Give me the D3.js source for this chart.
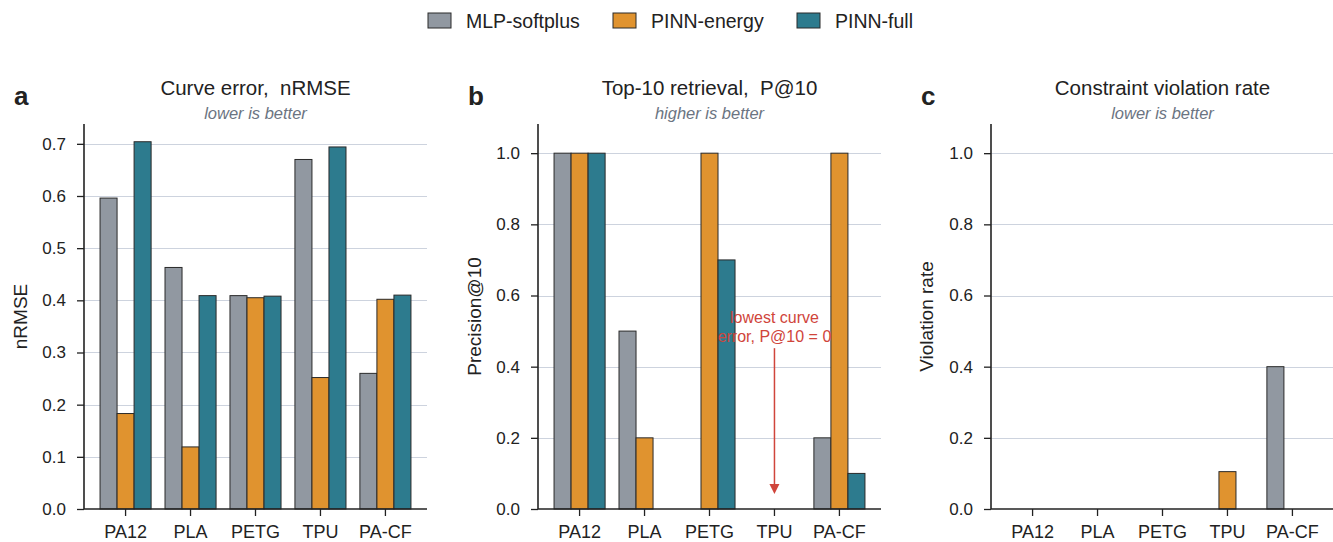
<!DOCTYPE html>
<html lang="en">
<head>
<meta charset="UTF-8">
<title>Model comparison</title>
<script src="https://cdn.jsdelivr.net/npm/d3@7"></script>
<style>
  body { margin: 0; background: #fff; }
  svg text { font-family: "Liberation Sans", Arial, Helvetica, sans-serif; fill: #222; white-space: pre; }
</style>
</head>
<body>
<svg id="chart" width="1333" height="542"></svg>
<script>
// data
var materials = ["PA12", "PLA", "PETG", "TPU", "PA-CF"];
var models = ["MLP-softplus", "PINN-energy", "PINN-full"];
var colors = ["#9198a1", "#e0932f", "#2d7b8e"];

var nrmse = [
  [0.596, 0.463, 0.409, 0.670, 0.260],   // MLP-softplus
  [0.183, 0.119, 0.405, 0.252, 0.402],   // PINN-energy
  [0.704, 0.409, 0.408, 0.694, 0.410]    // PINN-full
];
var p10 = [
  [1.0, 0.5, 0.0, 0.0, 0.2],
  [1.0, 0.2, 1.0, 0.0, 1.0],
  [1.0, 0.0, 0.7, 0.0, 0.1]
];
var violation = [
  [0.0, 0.0, 0.0, 0.0, 0.4],
  [0.0, 0.0, 0.0, 0.105, 0.0],
  [0.0, 0.0, 0.0, 0.0, 0.0]
];
var ticksA = [0, 0.1, 0.2, 0.3, 0.4, 0.5, 0.6, 0.7];
var ticksB = [0, 0.2, 0.4, 0.6, 0.8, 1.0];

var svg = d3.select("#chart");
var plotTop = 124, plotBottom = 509;

var panels = [
  {letter: "a", title: "Curve error,  nRMSE", sub: "lower is better", ylab: "nRMSE",
   data: nrmse, ymax: 0.738, ticks: ticksA, x0: 84, x1: 427, ylabX: 27},
  {letter: "b", title: "Top-10 retrieval,  P@10", sub: "higher is better", ylab: "Precision@10",
   data: p10, ymax: 1.082, ticks: ticksB, x0: 538, x1: 881, ylabX: 481},
  {letter: "c", title: "Constraint violation rate", sub: "lower is better", ylab: "Violation rate",
   data: violation, ymax: 1.082, ticks: ticksB, x0: 991, x1: 1334, ylabX: 933}
];

panels.forEach(function(p, pi) {
  var x = d3.scaleBand().domain(materials).range([p.x0, p.x1]).paddingInner(0).paddingOuter(0.14);
  var y = d3.scaleLinear().domain([0, p.ymax]).range([plotBottom, plotTop]);
  var bw = x.bandwidth() * 0.262;
  var g = svg.append("g");

  // grid
  g.selectAll("line.grid").data(p.ticks.filter(function(t) { return t > 0; })).enter()
    .append("line")
    .attr("x1", p.x0).attr("x2", p.x1)
    .attr("y1", function(d) { return Math.round(y(d)) + 0.5; })
    .attr("y2", function(d) { return Math.round(y(d)) + 0.5; })
    .attr("stroke", "#cdd3de").attr("stroke-width", 1.2);

  // bars
  p.data.forEach(function(vals, si) {
    g.selectAll("rect.s" + si).data(vals).enter()
      .append("rect")
      .attr("x", function(d, i) { return x(materials[i]) + x.bandwidth() / 2 + (si - 1.5) * bw; })
      .attr("width", bw)
      .attr("y", function(d) { return y(d); })
      .attr("height", function(d) { return y(0) - y(d); })
      .attr("fill", colors[si])
      .attr("stroke", "#2a2a2a").attr("stroke-width", 1)
      .style("display", function(d) { return d > 0 ? null : "none"; });
  });

  // annotation in panel b
  if (pi == 1) {
    var ax = x("TPU") + x.bandwidth() / 2;
    g.append("text").attr("x", ax).attr("y", 323).attr("text-anchor", "middle")
      .attr("font-size", 16).style("fill", "#d0453b").text("lowest curve");
    g.append("text").attr("x", ax).attr("y", 342).attr("text-anchor", "middle")
      .attr("font-size", 16).style("fill", "#d0453b").text("error, P@10 = 0");
    g.append("line").attr("x1", ax).attr("x2", ax).attr("y1", y(0.452)).attr("y2", y(0.05))
      .attr("stroke", "#d0453b").attr("stroke-width", 1.5);
    var ty = y(0.042);
    g.append("path")
      .attr("d", "M" + (ax - 5) + "," + (ty - 10) + "L" + (ax + 5) + "," + (ty - 10) + "L" + ax + "," + ty + "Z")
      .attr("fill", "#d0453b");
  }

  // axes
  var yAxis = d3.axisLeft(y).tickValues(p.ticks).tickFormat(d3.format(".1f")).tickSize(7).tickPadding(11);
  var gy = g.append("g").attr("transform", "translate(" + p.x0 + ",0)").call(yAxis);
  gy.select(".domain").attr("d", "M0," + plotTop + "V" + plotBottom).attr("stroke", "#222").attr("stroke-width", 1.6);
  gy.selectAll(".tick line").attr("stroke", "#222").attr("stroke-width", 1.3);
  gy.selectAll(".tick text").attr("font-size", 17).style("fill", "#222");

  var xAxis = d3.axisBottom(x).tickSize(7).tickPadding(9);
  var gx = g.append("g").attr("transform", "translate(0," + plotBottom + ")").call(xAxis);
  gx.select(".domain").attr("d", "M" + p.x0 + ",0H" + p.x1).attr("stroke", "#222").attr("stroke-width", 1.6);
  gx.selectAll(".tick line").attr("stroke", "#222").attr("stroke-width", 1.3);
  gx.selectAll(".tick text").attr("font-size", 18).style("fill", "#222");

  // titles
  var cx = (p.x0 + p.x1) / 2;
  g.append("text").attr("x", cx).attr("y", 95).attr("text-anchor", "middle")
    .attr("font-size", 20.5).text(p.title);
  g.append("text").attr("x", cx).attr("y", 119).attr("text-anchor", "middle")
    .attr("font-size", 16.5).attr("font-style", "italic").style("fill", "#6b7482").text(p.sub);
  g.append("text").attr("x", p.x0 - 70).attr("y", 105)
    .attr("font-size", 26).attr("font-weight", "bold").style("fill", "#222").text(p.letter);
  g.append("text").attr("transform", "translate(" + p.ylabX + "," + ((plotTop + plotBottom) / 2) + ") rotate(-90)")
    .attr("text-anchor", "middle").attr("font-size", 19).text(p.ylab);
});

// legend
var legX = [428, 613, 797];
var leg = svg.append("g").selectAll("g").data(models).enter().append("g")
  .attr("transform", function(d, i) { return "translate(" + legX[i] + ",13)"; });
leg.append("rect").attr("width", 23).attr("height", 15)
  .attr("fill", function(d, i) { return colors[i]; })
  .attr("stroke", "#2a2a2a").attr("stroke-width", 1);
leg.append("text").attr("x", 38).attr("y", 14.5).attr("font-size", 19.5).text(function(d) { return d; });
</script>
</body>
</html>
